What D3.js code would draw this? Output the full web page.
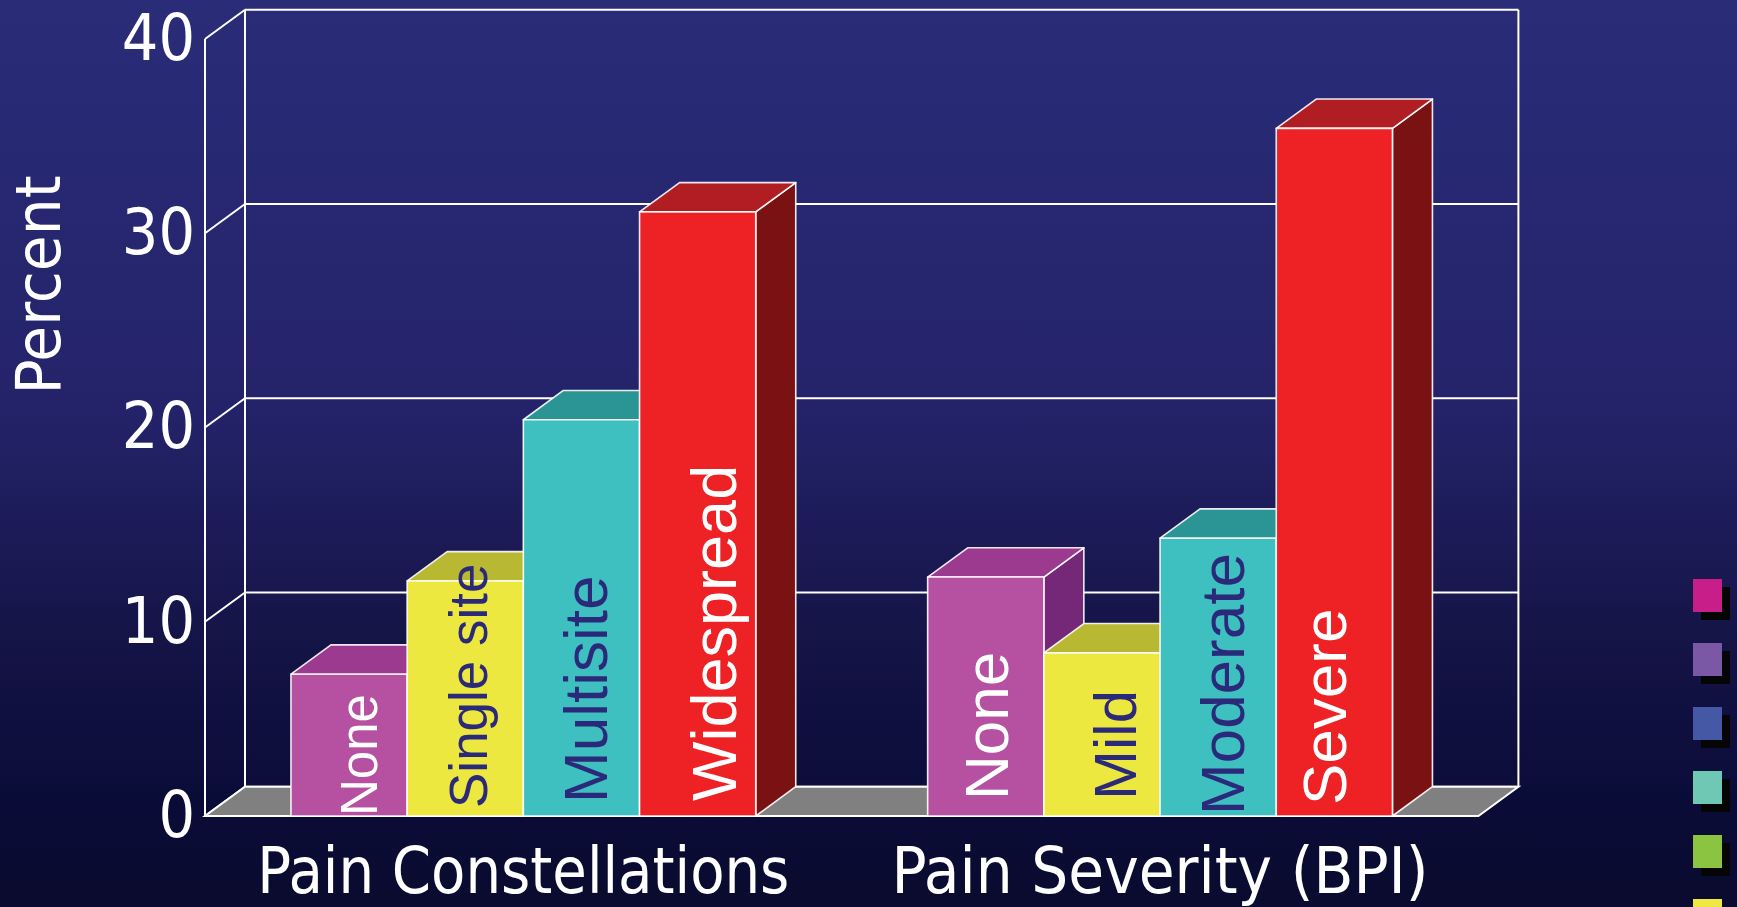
<!DOCTYPE html>
<html>
<head>
<meta charset="utf-8">
<script src="https://cdn.jsdelivr.net/npm/d3@7"></script>
<style>
  html, body { margin: 0; padding: 0; background: #0a0b30; overflow: hidden; }
  svg { display: block; }
</style>
</head>
<body>
<script>
// ---- data ----
const groups = ["Pain Constellations", "Pain Severity (BPI)"];
const constellationLabels = ["None", "Single site", "Multisite", "Widespread"];
const severityLabels = ["None", "Mild", "Moderate", "Severe"];
const constellationValues = [7.3, 12.1, 20.4, 31.1];
const severityValues = [12.3, 8.4, 14.3, 35.4];
const yTicks = [0, 10, 20, 30, 40];
const axisTitle = "Percent";

// ---- styles ----
const W = 1737, H = 907;
const frontColors = ["#b551a0", "#ede840", "#3ec0c0", "#ee2224"];
const topColors   = ["#9c3a8f", "#b8b832", "#2b9494", "#b01e24"];
const sideColors  = ["#752878", "#8f8f26", "#1f7070", "#7a1214"];
const labelColors = ["#ffffff", "#2b2a7a", "#2b2a7a", "#ffffff"];
// per-label type size, baseline shift from bar centre, inset from the floor
const labelSize  = [[51, 53, 62, 63], [62, 60, 62, 62]];
const labelShift = [[28, 22, 26, 38], [22, 34, 26, 12]];
const labelInset = [[0, 8, 13, 15], [16, 16, 1, 11]];
const swatches = ["#c81e8a", "#7a58a5", "#4458a5", "#6ec8b4", "#8ac440", "#eee840"];
const sansTitle = "'DejaVu Sans Condensed', 'DejaVu Sans', sans-serif";
const sansBar = "'Liberation Sans', Arial, sans-serif";

const DX = 40, DY = -29.3;   // depth offset of the 3-D box

const svg = d3.select("body").append("svg")
  .attr("width", W).attr("height", H);

// background gradient
const defs = svg.append("defs");
const grad = defs.append("linearGradient").attr("id", "bg")
  .attr("x1", 0).attr("y1", 0).attr("x2", 0).attr("y2", 1);
[[0, "#2a2c78"], [0.45, "#24236a"], [0.72, "#141345"], [0.88, "#0a0c38"], [1, "#0a0b2e"]]
  .forEach(([o, c]) => grad.append("stop").attr("offset", o).attr("stop-color", c));
svg.append("rect").attr("width", W).attr("height", H).attr("fill", "url(#bg)");

// ---- scales ----
const x0 = d3.scaleBand().domain(groups).range([205, 1478.4])
  .paddingInner(0.27).paddingOuter(0.135);
const x1 = d3.scaleBand().domain(d3.range(4)).range([0, x0.bandwidth()]).padding(0);
const y = d3.scaleLinear().domain([0, 40]).range([816, 39]);

const left = x0.range()[0], right = x0.range()[1];

// ---- walls ----
const walls = svg.append("g").attr("stroke", "#ffffff").attr("stroke-width", 2).attr("fill", "none");
// back wall gridlines
walls.selectAll("line.grid").data(yTicks).join("line").attr("class", "grid")
  .attr("x1", left + DX).attr("x2", right + DX)
  .attr("y1", d => y(d) + DY).attr("y2", d => y(d) + DY);
// side wall gridlines
walls.selectAll("line.side").data(yTicks).join("line").attr("class", "side")
  .attr("x1", left).attr("x2", left + DX)
  .attr("y1", d => y(d)).attr("y2", d => y(d) + DY);
// wall edges
walls.append("line").attr("x1", left + DX).attr("x2", left + DX)
  .attr("y1", y(40) + DY).attr("y2", y(0) + DY);
walls.append("line").attr("x1", right + DX).attr("x2", right + DX)
  .attr("y1", y(40) + DY).attr("y2", y(0) + DY);
walls.append("line").attr("x1", left).attr("x2", left)
  .attr("y1", y(40)).attr("y2", y(0));

// floor
svg.append("polygon")
  .attr("points", [[left, y(0)], [right, y(0)], [right + DX, y(0) + DY], [left + DX, y(0) + DY]].join(" "))
  .attr("fill", "#808080").attr("stroke", "#ffffff").attr("stroke-width", 2);

// ---- bars ----
const series = [
  { group: groups[0], labels: constellationLabels, values: constellationValues },
  { group: groups[1], labels: severityLabels, values: severityValues }
];

series.forEach((s, gi) => {
  const g = svg.append("g");
  s.values.forEach((v, i) => {
    const x = x0(s.group) + x1(i), w = x1.bandwidth();
    const yt = y(v), yb = y(0);
    const bar = g.append("g").attr("stroke", "#ffffff").attr("stroke-width", 1.6)
      .attr("stroke-opacity", 0.9).attr("stroke-linejoin", "round");
    bar.append("polygon")
      .attr("points", [[x + w, yt], [x + w + DX, yt + DY], [x + w + DX, yb + DY], [x + w, yb]].join(" "))
      .attr("fill", sideColors[i]);
    bar.append("polygon")
      .attr("points", [[x, yt], [x + w, yt], [x + w + DX, yt + DY], [x + DX, yt + DY]].join(" "))
      .attr("fill", topColors[i]);
    bar.append("rect")
      .attr("x", x).attr("y", yt).attr("width", w).attr("height", yb - yt)
      .attr("fill", frontColors[i]);
    g.append("text")
      .attr("transform", `translate(${x + w / 2 + labelShift[gi][i]},${yb - labelInset[gi][i]}) rotate(-90)`)
      .attr("text-anchor", "start")
      .attr("font-family", sansBar)
      .attr("font-size", labelSize[gi][i])
      .attr("fill", labelColors[i])
      .text(s.labels[i]);
  });
});

// ---- axis labels ----
const axis = svg.append("g").attr("transform", `translate(${left},0)`)
  .call(d3.axisLeft(y).tickValues(yTicks).tickSize(0).tickPadding(10));
axis.select(".domain").remove();
axis.selectAll("text")
  .attr("font-family", sansTitle).attr("font-size", 64).attr("fill", "#ffffff");

svg.append("text")
  .attr("transform", "translate(60,285) rotate(-90)")
  .attr("text-anchor", "middle")
  .attr("font-family", sansTitle).attr("font-size", 63).attr("fill", "#ffffff")
  .attr("textLength", 219).attr("lengthAdjust", "spacingAndGlyphs")
  .text(axisTitle);

svg.selectAll("text.cat").data(groups).join("text").attr("class", "cat")
  .attr("x", d => x0(d) + x0.bandwidth() / 2).attr("y", 893)
  .attr("text-anchor", "middle")
  .attr("font-family", sansTitle).attr("font-size", 64).attr("fill", "#ffffff")
  .attr("textLength", (d, i) => i === 0 ? 532 : 537).attr("lengthAdjust", "spacingAndGlyphs")
  .text(d => d);

// ---- colour swatches ----
const sw = svg.append("g");
swatches.forEach((c, i) => {
  const sy = 579 + i * 64;
  sw.append("rect").attr("x", 1701).attr("y", sy + 8).attr("width", 29).attr("height", 33).attr("fill", "#050505");
  sw.append("rect").attr("x", 1693).attr("y", sy).attr("width", 29).attr("height", 33).attr("fill", c);
});
</script>
</body>
</html>
